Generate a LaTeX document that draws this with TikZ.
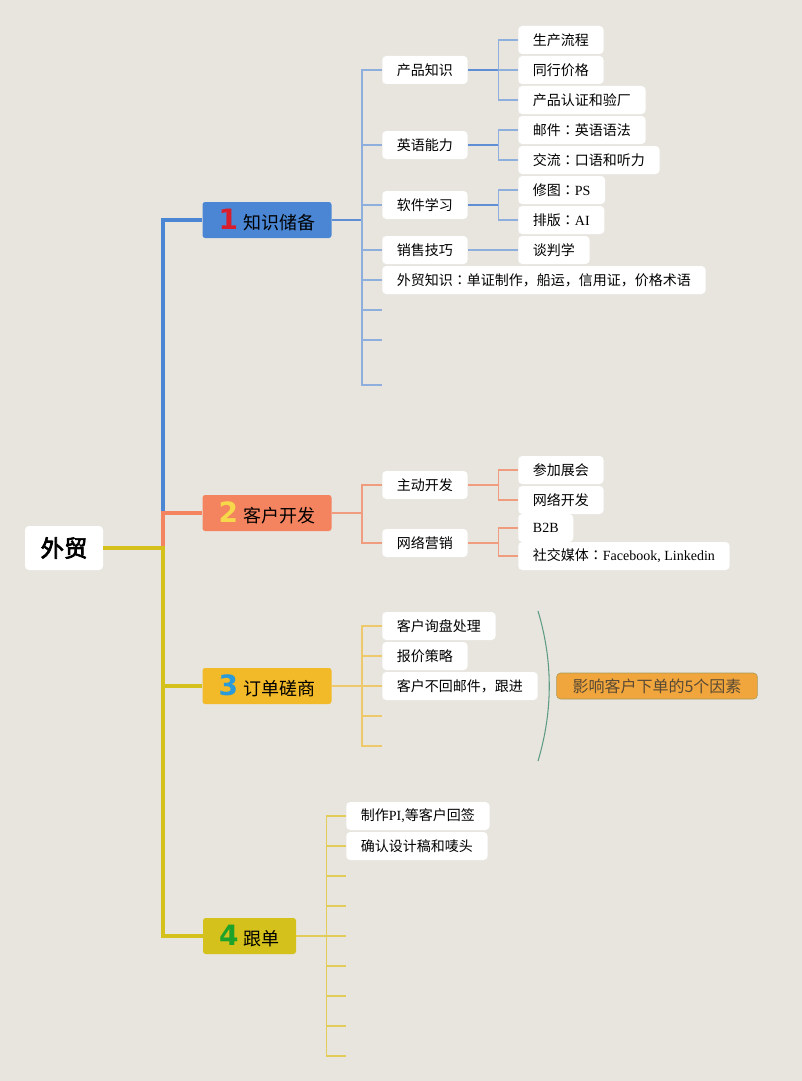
\documentclass[tikz,border=0pt]{standalone}
\usepackage{fontspec}
\setmainfont{Liberation Serif}
\newfontfamily\cjk{Noto Sans CJK SC}
\newfontfamily\cjkjp{Noto Sans CJK JP}
\newfontfamily\cjkbold{Noto Sans CJK SC}[FakeBold=3]
\newfontfamily\numfont{DejaVu Sans}
\usepackage{tikz}
\usetikzlibrary{positioning}

\definecolor{bgcol}{HTML}{E8E5DE}
\definecolor{blueA}{HTML}{4A86D4}
\definecolor{blueL}{HTML}{5F8ED4}
\definecolor{blueS}{HTML}{8EAEDD}
\definecolor{orangeA}{HTML}{F4845F}
\definecolor{orangeL}{HTML}{F09C7E}
\definecolor{yellowA}{HTML}{F2B929}
\definecolor{yellowL}{HTML}{EEC96C}
\definecolor{oliveA}{HTML}{D4C11C}
\definecolor{oliveL}{HTML}{E2CC5A}
\definecolor{numred}{HTML}{D81E2C}
\definecolor{numyellow}{HTML}{F7D84A}
\definecolor{numblue}{HTML}{2A9BD8}
\definecolor{numgreen}{HTML}{1FA22A}
\definecolor{sumcol}{HTML}{5E9C86}
\definecolor{factorfill}{HTML}{F0A63C}
\definecolor{factordraw}{HTML}{A89A58}
\definecolor{factortext}{HTML}{5A4A35}

\tikzstyle{rootbox}=[fill=white, rounded corners=3pt, minimum width=58.5pt, minimum height=33pt, font=\cjkbold\fontsize{17.5}{19}\selectfont]
\tikzstyle{topic}=[rounded corners=2pt, minimum height=27pt, inner xsep=0pt, font=\cjk\fontsize{13.5}{15}\selectfont]
\tikzstyle{leaf}=[fill=white, rounded corners=3pt, anchor=west, inner xsep=11pt, inner ysep=0pt, minimum height=21pt, font=\cjk\fontsize{10.5}{12}\selectfont]
\tikzstyle{factor}=[fill=factorfill, draw=factordraw, rounded corners=3pt, inner xsep=12pt, minimum height=19.5pt, text=factortext, font=\cjk\fontsize{12}{14}\selectfont]
\tikzstyle{trunk}=[line width=3.6pt]
\tikzstyle{branch}=[line width=1.5pt]
\tikzstyle{stub}=[line width=1.1pt]
\newcommand{\topicnum}[2]{{\numfont\bfseries\fontsize{21}{21}\selectfont\color{#1}#2}\hspace{4pt}}
\newcommand{\fwcolon}{{\cjkjp ：}}

\begin{document}
\begin{tikzpicture}[x=0.75pt, y=-0.75pt]
        \useasboundingbox (0,0) rectangle (802,1081);
        \fill[bgcol] (0,0) rectangle (802,1081);

        % Root
        \node at (64,548) [rootbox] (root) {外贸};

        % Topics
        \node at (267,220) [topic, fill=blueA, minimum width=96.75pt] (topic_1) {\topicnum{numred}{1}知识储备};
        \node at (267,513) [topic, fill=orangeA, minimum width=96.75pt] (topic_2) {\topicnum{numyellow}{2}客户开发};
        \node at (267,686) [topic, fill=yellowA, minimum width=96.75pt] (topic_3) {\topicnum{numblue}{3}订单磋商};
        \node at (249.5,936) [topic, fill=oliveA, minimum width=69.75pt] (topic_4) {\topicnum{numgreen}{4}跟单};

        \coordinate (trunk) at (163,548);
        \draw [trunk, blueA] (trunk) |- (topic_1.west);
        \draw [trunk, orangeA] (trunk) |- (topic_2.west);
        \draw [trunk, oliveA] (root.east) -- (trunk) |- (topic_4.west);
        \draw [trunk, oliveA] (trunk) |- (topic_3.west);

        % Knowledge
        \node at (382,70) [leaf] (know_1) {产品知识};
        \node at (382,145) [leaf] (know_2) {英语能力};
        \node at (382,205) [leaf] (know_3) {软件学习};
        \node at (382,250) [leaf] (know_4) {销售技巧};
        \node at (382,280) [leaf] (know_5) {外贸知识\fwcolon 单证制作，船运，信用证，价格术语};
        \foreach \y [count=\i from 6] in {310,340,385}
          \coordinate (know_\i) at (382,\y);

        \node at (518,40) [leaf] (prod_1) {生产流程};
        \node at (518,70) [leaf] (prod_2) {同行价格};
        \node at (518,100) [leaf] (prod_3) {产品认证和验厂};
        \node at (518,130) [leaf] (eng_1) {邮件\fwcolon 英语语法};
        \node at (518,160) [leaf] (eng_2) {交流\fwcolon 口语和听力};
        \node at (518,190) [leaf] (soft_1) {修图\fwcolon{\rmfamily PS}};
        \node at (518,220) [leaf] (soft_2) {排版\fwcolon{\rmfamily AI}};
        \node at (518,250) [leaf] (sale_1) {谈判学};

        \coordinate [right=22.5pt of topic_1] (bar_1);
        \draw [branch, blueL] (topic_1.east) -- (bar_1);
        \foreach \i in {1,...,5}
          \draw [stub, blueS] (bar_1) |- (know_\i.west);
        \foreach \i in {6,...,8}
          \draw [stub, blueS] (bar_1) |- (know_\i);

        \coordinate [right=23pt of know_1] (bar_prod);
        \draw [branch, blueL] (know_1.east) -- (bar_prod);
        \foreach \i in {1,...,3}
          \draw [stub, blueS] (bar_prod) |- (prod_\i.west);
        \coordinate [right=23pt of know_2] (bar_eng);
        \draw [branch, blueL] (know_2.east) -- (bar_eng);
        \foreach \i in {1,...,2}
          \draw [stub, blueS] (bar_eng) |- (eng_\i.west);
        \coordinate [right=23pt of know_3] (bar_soft);
        \draw [branch, blueL] (know_3.east) -- (bar_soft);
        \foreach \i in {1,...,2}
          \draw [stub, blueS] (bar_soft) |- (soft_\i.west);
        \draw [stub, blueS] (know_4.east) -- (sale_1.west);

        % Customers
        \node at (382,485) [leaf] (cust_1) {主动开发};
        \node at (382,543) [leaf] (cust_2) {网络营销};
        \node at (518,470) [leaf] (act_1) {参加展会};
        \node at (518,500) [leaf] (act_2) {网络开发};
        \node at (518,528) [leaf] (net_1) {{\rmfamily B2B}};
        \node at (518,556) [leaf] (net_2) {社交媒体\fwcolon{\rmfamily Facebook, Linkedin}};

        \coordinate [right=22.5pt of topic_2] (bar_2);
        \draw [branch, orangeL] (topic_2.east) -- (bar_2);
        \foreach \i in {1,...,2}
          \draw [stub, orangeL] (bar_2) |- (cust_\i.west);
        \coordinate [right=23pt of cust_1] (bar_act);
        \draw [branch, orangeL] (cust_1.east) -- (bar_act);
        \foreach \i in {1,...,2}
          \draw [stub, orangeL] (bar_act) |- (act_\i.west);
        \coordinate [right=23pt of cust_2] (bar_net);
        \draw [branch, orangeL] (cust_2.east) -- (bar_net);
        \foreach \i in {1,...,2}
          \draw [stub, orangeL] (bar_net) |- (net_\i.west);

        % Orders
        \node at (382,626) [leaf] (order_1) {客户询盘处理};
        \node at (382,656) [leaf] (order_2) {报价策略};
        \node at (382,686) [leaf] (order_3) {客户不回邮件，跟进};
        \foreach \y [count=\i from 4] in {716,746}
          \coordinate (order_\i) at (382,\y);

        \coordinate [right=22.5pt of topic_3] (bar_3);
        \draw [branch, yellowL] (topic_3.east) -- (bar_3);
        \foreach \i in {1,...,3}
          \draw [stub, yellowL] (bar_3) |- (order_\i.west);
        \foreach \i in {4,...,5}
          \draw [stub, yellowL] (bar_3) |- (order_\i);

        \coordinate (sum_top) at (538,611);
        \coordinate (sum_bot) at (538,761);
        \draw [sumcol, line width=0.8pt] (sum_top) .. controls (553,661) and (553,711) .. (sum_bot);
        \node at (657,686) [factor] (factor) {影响客户下单的5个因素};

        % Follow-up
        \node at (346,816) [leaf] (follow_1) {制作{\rmfamily PI,}等客户回签};
        \node at (346,846) [leaf] (follow_2) {确认设计稿和唛头};
        \foreach \y [count=\i from 3] in {876,906,936,966,996,1026,1056}
          \coordinate (follow_\i) at (346,\y);

        \coordinate [right=22.5pt of topic_4] (bar_4);
        \draw [branch, oliveL] (topic_4.east) -- (bar_4);
        \foreach \i in {1,...,2}
          \draw [stub, oliveL] (bar_4) |- (follow_\i.west);
        \foreach \i in {3,...,9}
          \draw [stub, oliveL] (bar_4) |- (follow_\i);
\end{tikzpicture}
\end{document}
